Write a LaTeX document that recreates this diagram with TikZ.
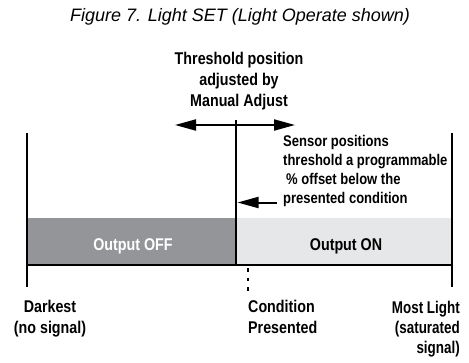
\documentclass[tikz,border=0pt]{standalone}
\usepackage{fontspec}
\setmainfont{Liberation Sans}
\newfontfamily\narrowfont[FakeStretch=0.84]{Liberation Sans}
\newfontfamily\narrowerfont[FakeStretch=0.79]{Liberation Sans}
\usetikzlibrary{arrows.meta,positioning}
\definecolor{offgray}{RGB}{147,149,152}
\definecolor{ongray}{RGB}{230,231,232}
\tikzset{bighead/.tip={Triangle[length=21pt,width=11pt]}}

\begin{document}
\begin{tikzpicture}[x=1pt,y=-1pt,
		lbl/.style={font=\narrowfont\bfseries\fontsize{17}{21}\selectfont,inner sep=0pt},
		small/.style={font=\narrowfont\bfseries\fontsize{15.5}{18.7}\selectfont,inner sep=0pt},
		bar/.style={line width=2.8pt}]
		\useasboundingbox (0,0) rectangle (469,362);
		% bands
		\fill[offgray] (27,218) rectangle (236,265);
		\fill[ongray] (236,218) rectangle (452,265);
		% reference points
		\coordinate (ltop) at (27,133);
		\coordinate (lbot) at (27,287);
		\coordinate (rtop) at (452,133);
		\coordinate (rbot) at (452,287);
		\coordinate (mtop) at (236,120);
		\coordinate (mbot) at (236,265);
		\coordinate (adjl) at (175,125);
		\coordinate (adjr) at (295,125);
		\coordinate (offs) at (277,202.5);
		\coordinate (offe) at (237.5,202.5);
		\coordinate (ctop) at (248,268);
		\coordinate (cbot) at (248,293);
		% lines
		\draw[bar] (ltop) -- (lbot);
		\draw[bar] (rtop) -- (rbot);
		\draw[line width=2.5pt] (lbot |- mbot) -- (rbot |- mbot);
		\draw[bar] (mtop) -- (mbot);
		\draw[line width=2pt,bighead-bighead] (adjl) -- (adjr);
		\draw[line width=2pt,-bighead] (offs) -- (offe);
		\draw[line width=2pt,dash pattern=on 3.5pt off 6pt] (ctop) -- (cbot);
		% texts (base = last line)
		\node[font=\itshape\fontsize{18}{20}\selectfont,inner sep=0pt,anchor=base] (title) at (240,21) {Figure 7. Light SET (Light Operate shown)};
		\node[lbl,align=center,anchor=base] (thresh) at (239,106) {Threshold position\\adjusted by\\Manual Adjust};
		\node[small,align=left,anchor=base west] (sensor) at (283,203) {Sensor positions\\threshold a programmable\\\hspace*{3pt}\% offset below the\\presented condition};
		\node[lbl,white,anchor=base] (off) at (133,250) {Output OFF};
		\node[lbl,anchor=base] (on) at (346,250) {Output ON};
		\node[lbl,align=center,anchor=base] (darkest) at (50,333) {Darkest\\(no signal)};
		\node[lbl,align=left,anchor=base west] (cond) at (248,333) {Condition\\Presented};
		\node[lbl,font=\narrowerfont\bfseries\fontsize{17}{20}\selectfont,align=right,anchor=base east] (most) at (460,353) {Most Light\\(saturated\\signal)};
	\end{tikzpicture}
\end{document}
